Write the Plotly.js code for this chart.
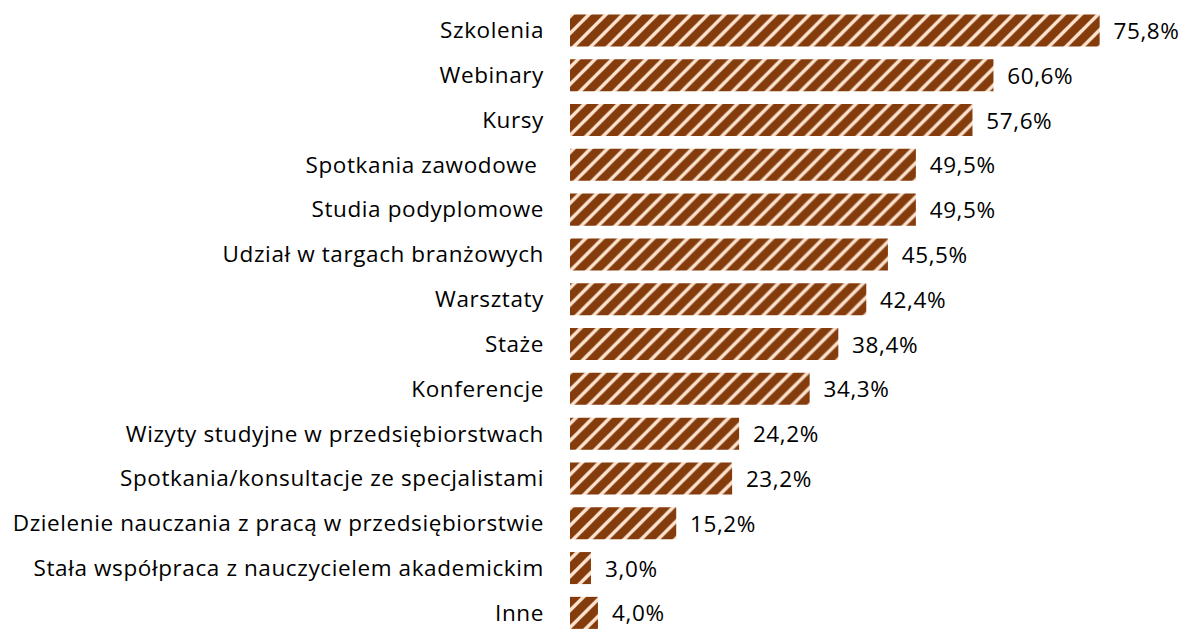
<!DOCTYPE html>
<html><head><meta charset="utf-8">
<script src="https://cdn.plot.ly/plotly-3.0.1.min.js"></script>
<style>
html,body{margin:0;padding:0;background:#fff;overflow:hidden}
#chart svg text{letter-spacing:0.6px}
</style>
</head><body>
<div id="chart" style="width:1187px;height:629px"></div>
<script>
const categories = [
  "Szkolenia","Webinary","Kursy","Spotkania zawodowe ","Studia podyplomowe",
  "Udział w targach branżowych","Warsztaty","Staże","Konferencje",
  "Wizyty studyjne w przedsiębiorstwach","Spotkania/konsultacje ze specjalistami",
  "Dzielenie nauczania z pracą w przedsiębiorstwie",
  "Stała współpraca z nauczycielem akademickim","Inne"
];
const values = [75.8,60.6,57.6,49.5,49.5,45.5,42.4,38.4,34.3,24.2,23.2,15.2,3.0,4.0];
const labels = values.map(v => "  " + v.toFixed(1).replace(".", ",") + "%");

const FONT = "'Open Sans', 'Noto Sans', sans-serif";
const trace = {
  type: "bar", orientation: "h",
  x: values, y: categories.map((c,i)=>i),
  text: labels, textposition: "outside", cliponaxis: false,
  textfont: {family: FONT, size: 22.5, color: "#000"},
  marker: {
    color: "#fde3cf",
    line: {width: 0},
    pattern: {shape: "/", fgcolor: "#843c0c", bgcolor: "#fde3cf", size: 12, solidity: 0.72, fillmode: "replace"}
  },
  hoverinfo: "none"
};
const layout = {
  width: 1187, height: 629,
  margin: {l: 570, r: 0, t: 8, b: 0},
  paper_bgcolor: "#fff", plot_bgcolor: "#fff",
  bargap: 0.285,
  showlegend: false,
  xaxis: {range: [0, 88.3], visible: false, fixedrange: true},
  yaxis: {
    range: [13.36, -0.5], tickmode: "array",
    tickvals: categories.map((c,i)=>i), ticktext: categories,
    showgrid: false, zeroline: false, showline: false, ticks: "",
    ticklabelstandoff: 25, ticklabeloverflow: "allow",
    tickfont: {family: FONT, size: 22.5, color: "#000"}
  }
};
Plotly.newPlot("chart", [trace], layout, {displayModeBar: false, staticPlot: true});
</script>
</body></html>
